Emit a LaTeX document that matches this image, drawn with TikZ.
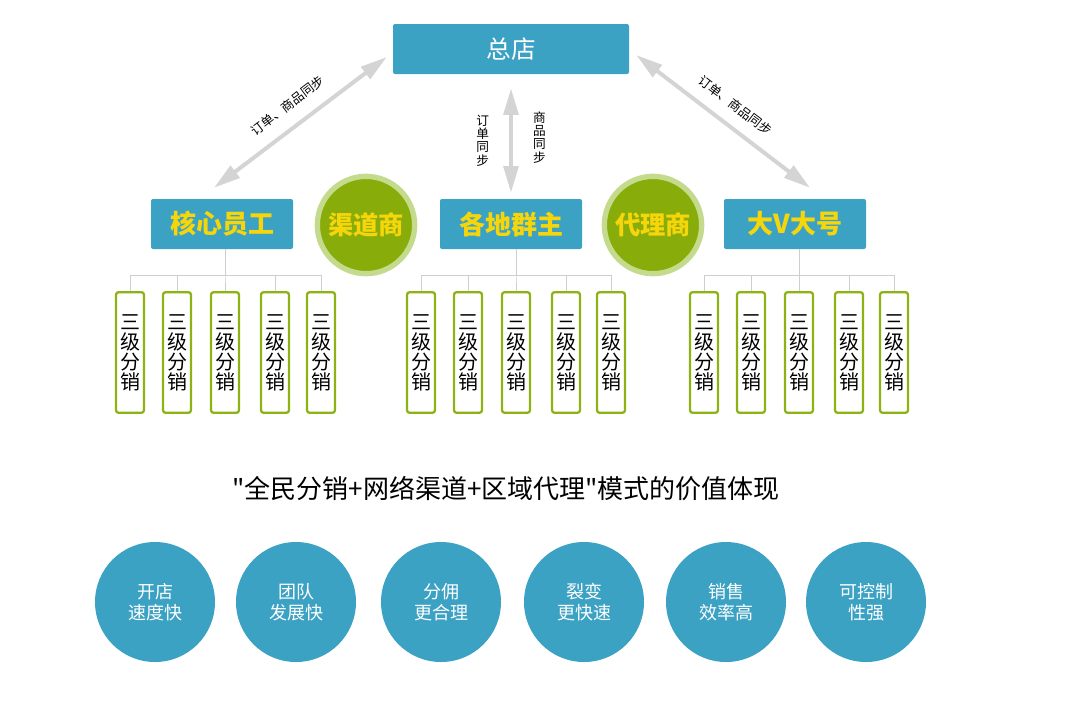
\documentclass[tikz,border=0pt]{standalone}
\usepackage{fontspec}
\setmainfont{Noto Sans CJK SC}
\newfontfamily\mottofont{Noto Sans CJK SC}[Ligatures=TeXOff]
\usetikzlibrary{arrows.meta, positioning, calc}
\definecolor{shopblue}{RGB}{59,162,196}
\definecolor{roleyellow}{RGB}{246,214,10}
\definecolor{leafgreen}{RGB}{136,173,10}
\definecolor{ringgreen}{RGB}{196,219,142}
\definecolor{sellergreen}{RGB}{140,178,20}
\definecolor{syncgray}{RGB}{212,212,212}
\definecolor{treegray}{RGB}{206,206,206}

\begin{document}
\begin{tikzpicture}[x=0.75pt, y=-0.75pt,
  hqbox/.style={rectangle, rounded corners=1.5pt, fill=shopblue, minimum width=177pt, minimum height=37.5pt, text=white, font=\fontsize{18.5}{20}\selectfont},
  rolebox/.style={rectangle, rounded corners=1.5pt, fill=shopblue, minimum width=106.5pt, minimum height=37.5pt, text=roleyellow, font=\bfseries\fontsize{19.5}{20}\selectfont},
  partner/.style={circle, fill=leafgreen, draw=ringgreen, line width=4pt, minimum size=73pt, inner sep=0pt, text=roleyellow, font=\bfseries\fontsize{19}{20}\selectfont},
  seller/.style={rectangle, rounded corners=2pt, draw=sellergreen, line width=1.7pt, fill=white, minimum width=21pt, minimum height=90.5pt, inner sep=0pt, align=center, font=\fontsize{15}{15}\selectfont},
  value/.style={circle, fill=shopblue, minimum size=90pt, inner sep=0pt, align=center, text=white, font=\fontsize{13.5}{16}\selectfont},
  sync/.style={draw=syncgray, line width=3pt, {Triangle[length=20pt,width=11pt]}-{Triangle[length=20pt,width=11pt]}},
  tree/.style={draw=treegray, line width=0.75pt},
  tag/.style={font=\fontsize{9.5}{10}\selectfont, inner sep=0pt, align=center}]

\useasboundingbox (0,0) rectangle (1067,701);

\node[hqbox] (hq) at (511,49) {总店};

\node[rolebox] (core) at (222,224) {核心员工};
\node[rolebox] (qun) at (511,224) {各地群主};
\node[rolebox] (bigv) at (795,224) {大V大号};

\node[partner] (qudao) at (366,225) {渠道商};
\node[partner] (daili) at (653,225) {代理商};

\draw[sync] ($(hq.west)+(-6,8)$) -- node[tag, sloped, above=10pt] {订单、商品同步} ($(core.north)+(-8,-11)$);
\draw[sync] ($(hq.east)+(7,6)$) -- node[tag, sloped, above=9pt] {订单、商品同步} ($(bigv.north)+(15,-11)$);
\draw[sync] ($(hq.south)+(0,14)$) -- node[tag, pos=0.5, left=15pt] {订\\单\\同\\步}
  node[tag, pos=0.47, right=15pt] {商\\品\\同\\步} ($(qun.north)+(0,-6)$);

% three groups of sellers
\foreach \x [count=\i] in {130,177,225,275,321}
  \node[seller] (a\i) at (\x,352.5) {三\\级\\分\\销};
\foreach \x [count=\i] in {421,468,516,566,611}
  \node[seller] (b\i) at (\x,352.5) {三\\级\\分\\销};
\foreach \x [count=\i] in {704,751,799,849,894}
  \node[seller] (c\i) at (\x,352.5) {三\\级\\分\\销};

\foreach \i in {1,...,5} {
  \draw[tree] (a3.north |- core.south) -- ++(0,26) -| (a\i.north);
  \draw[tree] (b3.north |- qun.south) -- ++(0,26) -| (b\i.north);
  \draw[tree] (c3.north |- bigv.south) -- ++(0,26) -| (c\i.north);
}

\node[font=\mottofont\fontsize{19.5}{20}\selectfont] (motto) at (506,489) {"全民分销+网络渠道+区域代理"模式的价值体现};

\foreach \x/\t [count=\i] in {155/{开店\\速度快}, 296/{团队\\发展快}, 441/{分佣\\更合理}, 584/{裂变\\更快速}, 726/{销售\\效率高}, 866/{可控制\\性强}}
  \node[value] (v\i) at (\x,602) {\t};

\end{tikzpicture}
\end{document}
